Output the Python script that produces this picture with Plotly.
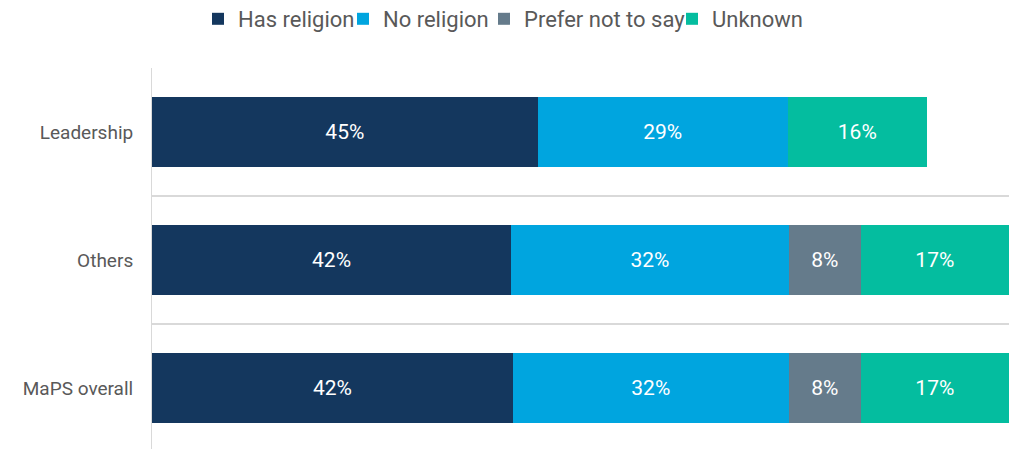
import plotly.graph_objects as go

categories = ["Leadership", "Others", "MaPS overall"]
series_names = ["Has religion", "No religion", "Prefer not to say", "Unknown"]
has_religion = [45.0, 41.9, 42.1]
no_religion = [29.2, 32.4, 32.2]
prefer_not = [None, 8.4, 8.4]
unknown = [16.2, 17.3, 17.3]
labels = {
    "Has religion": ["45%", "42%", "42%"],
    "No religion": ["29%", "32%", "32%"],
    "Prefer not to say": ["", "8%", "8%"],
    "Unknown": ["16%", "17%", "17%"],
}
colors = ["#14375e", "#00a5df", "#657b8b", "#04bd9f"]
values = [has_religion, no_religion, prefer_not, unknown]
legend_ids = ["legend", "legend2", "legend3", "legend4"]
legend_left_px = [198, 343, 484, 672]

W, H = 1017, 449

fig = go.Figure()
for name, vals, col, lid in zip(series_names, values, colors, legend_ids):
    fig.add_trace(go.Bar(
        name=name, y=categories, x=vals, orientation="h",
        marker=dict(color=col, line=dict(width=0)),
        text=labels[name], textposition="inside", insidetextanchor="middle",
        textfont=dict(color="white", size=21, family="Roboto"),
        width=0.547, hoverinfo="skip", legend=lid,
    ))

legend_common = dict(
    orientation="h", xref="container", yref="container",
    xanchor="left", yanchor="middle", y=1 - 19 / H,
    font=dict(size=22, color="#595959", family="Roboto"),
    itemwidth=30, bgcolor="rgba(0,0,0,0)", borderwidth=0,
)
layout_legends = {}
for lid, px in zip(legend_ids, legend_left_px):
    layout_legends[lid] = dict(legend_common, x=px / W)

fig.update_layout(
    barmode="stack",
    width=W, height=H,
    margin=dict(l=152, r=8, t=68, b=0),
    paper_bgcolor="white", plot_bgcolor="white",
    font=dict(family="Roboto", color="#595959"),
    showlegend=True,
    uniformtext=dict(mode="show", minsize=10),
    **layout_legends,
)
fig.update_xaxes(range=[0, 100], visible=False, showgrid=False, zeroline=False, fixedrange=True)
fig.update_yaxes(
    categoryorder="array", categoryarray=categories,
    range=[2 + 61 / 128, -0.5],
    tickson="boundaries", showgrid=True, gridcolor="#d9d9d9", gridwidth=2,
    showline=True, linecolor="#d9d9d9", linewidth=1,
    ticks="", tickfont=dict(size=19, color="#595959", family="Roboto"),
    ticklabelstandoff=14, zeroline=False,
)

fig.write_html("out.html")
